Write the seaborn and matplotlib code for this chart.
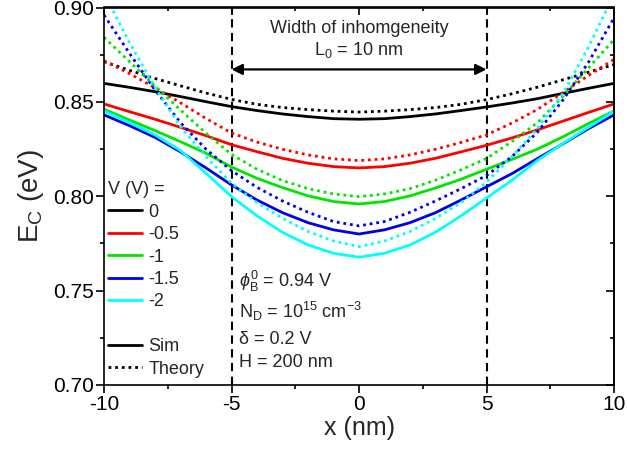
import matplotlib
matplotlib.use("Agg")
import matplotlib.pyplot as plt
from matplotlib.lines import Line2D
from matplotlib.ticker import MultipleLocator, FormatStrFormatter
import pandas as pd
import seaborn as sns

# position along the channel (nm)
x_nm = [-10, -9, -8, -7, -6, -5, -4, -3, -2, -1, 0,
        1, 2, 3, 4, 5, 6, 7, 8, 9, 10]

bias_labels = ["0", "-0.5", "-1", "-1.5", "-2"]
bias_colors = ["#000000", "#FF0000", "#00E600", "#0000E6", "#00FFFF"]

# conduction band edge from simulation (eV)
sim_0 = [0.8598, 0.8577, 0.8554, 0.8528, 0.8501, 0.8475, 0.8454, 0.8436, 0.8422, 0.8411, 0.8408,
         0.8411, 0.8422, 0.8436, 0.8454, 0.8473, 0.8494, 0.8517, 0.8545, 0.8572, 0.8598]
sim_05 = [0.8489, 0.8448, 0.8408, 0.8365, 0.8321, 0.8273, 0.8236, 0.8201, 0.8175, 0.8157, 0.8150,
          0.8157, 0.8175, 0.8201, 0.8235, 0.8270, 0.8309, 0.8352, 0.8398, 0.8444, 0.8489]
sim_1 = [0.8461, 0.8404, 0.8348, 0.8289, 0.8228, 0.8155, 0.8095, 0.8046, 0.8002, 0.7972, 0.7959,
         0.7972, 0.8002, 0.8044, 0.8090, 0.8143, 0.8195, 0.8250, 0.8315, 0.8385, 0.8452]
sim_15 = [0.8431, 0.8374, 0.8312, 0.8235, 0.8150, 0.8060, 0.7980, 0.7913, 0.7860, 0.7822, 0.7800,
          0.7822, 0.7860, 0.7913, 0.7980, 0.8050, 0.8120, 0.8200, 0.8278, 0.8358, 0.8431]
sim_2 = [0.8452, 0.8390, 0.8325, 0.8242, 0.8122, 0.7998, 0.7896, 0.7809, 0.7742, 0.7698, 0.7677,
         0.7698, 0.7742, 0.7809, 0.7896, 0.7990, 0.8085, 0.8190, 0.8280, 0.8365, 0.8450]

# conduction band edge from the analytical model (eV)
th_0 = [0.8713, 0.8667, 0.8624, 0.8585, 0.8547, 0.8513, 0.8487, 0.8470, 0.8459, 0.8451, 0.8446,
        0.8451, 0.8459, 0.8470, 0.8487, 0.8512, 0.8543, 0.8578, 0.8617, 0.8657, 0.8698]
th_05 = [0.8718, 0.8650, 0.8575, 0.8495, 0.8412, 0.8335, 0.8287, 0.8249, 0.8219, 0.8198, 0.8189,
         0.8198, 0.8219, 0.8249, 0.8285, 0.8325, 0.8388, 0.8460, 0.8550, 0.8640, 0.8725]
th_1 = [0.8842, 0.8713, 0.8584, 0.8457, 0.8334, 0.8222, 0.8143, 0.8083, 0.8040, 0.8012, 0.7998,
        0.8012, 0.8040, 0.8085, 0.8140, 0.8200, 0.8290, 0.8390, 0.8530, 0.8680, 0.8830]
th_15 = [0.8960, 0.8757, 0.8563, 0.8390, 0.8249, 0.8136, 0.8047, 0.7975, 0.7915, 0.7866, 0.7843,
         0.7866, 0.7915, 0.7975, 0.8040, 0.8110, 0.8210, 0.8340, 0.8510, 0.8710, 0.8945]
th_2 = [0.9075, 0.8814, 0.8577, 0.8369, 0.8210, 0.8069, 0.7966, 0.7883, 0.7813, 0.7763, 0.7733,
        0.7763, 0.7813, 0.7883, 0.7966, 0.8075, 0.8210, 0.8360, 0.8545, 0.8790, 0.9070]

sim_curves = [sim_0, sim_05, sim_1, sim_15, sim_2]
th_curves = [th_0, th_05, th_1, th_15, th_2]

frames = []
for lab, s, t in zip(bias_labels, sim_curves, th_curves):
    frames.append(pd.DataFrame({"x": x_nm, "E": s, "V": lab, "kind": "Sim"}))
    frames.append(pd.DataFrame({"x": x_nm, "E": t, "V": lab, "kind": "Theory"}))
df = pd.concat(frames, ignore_index=True)

sns.set_theme(style="ticks")
plt.rcParams.update({
    "font.family": ["Liberation Sans", "DejaVu Sans"],
    "mathtext.fontset": "custom",
    "mathtext.rm": "Liberation Sans",
    "mathtext.it": "Liberation Sans:italic",
    "mathtext.bf": "Liberation Sans:bold",
    "axes.unicode_minus": False,
    "axes.linewidth": 1.2,
    "axes.edgecolor": "black",
    "xtick.color": "black",
    "ytick.color": "black",
})

fig = plt.figure(figsize=(6.27, 4.55), dpi=100)
ax = fig.add_axes([104 / 627, 1 - 385 / 455, 510 / 627, 377.5 / 455])

dotted = (1, 1.4)
sns.lineplot(data=df, x="x", y="E", hue="V", style="kind",
             palette=dict(zip(bias_labels, bias_colors)),
             hue_order=bias_labels,
             dashes={"Sim": "", "Theory": dotted},
             linewidth=2.0, estimator=None, sort=False,
             legend=False, ax=ax)

ax.set_xlim(-10, 10)
ax.set_ylim(0.70, 0.90)
ax.xaxis.set_major_locator(MultipleLocator(5))
ax.xaxis.set_minor_locator(MultipleLocator(2.5))
ax.yaxis.set_major_locator(MultipleLocator(0.05))
ax.yaxis.set_minor_locator(MultipleLocator(0.025))
ax.yaxis.set_major_formatter(FormatStrFormatter("%.2f"))
ax.tick_params(which="major", direction="out", length=5.5, width=1.2,
               labelsize=15, pad=2)
ax.tick_params(which="minor", direction="out", length=3, width=1.2)

# inward ticks on the top and right frame
ax_top = ax.secondary_xaxis("top")
ax_right = ax.secondary_yaxis("right")
for sec in (ax_top, ax_right):
    sec.tick_params(which="major", direction="in", length=5.5, width=1.2)
    sec.tick_params(which="minor", direction="in", length=3, width=1.2)
ax_top.xaxis.set_major_locator(MultipleLocator(5))
ax_top.xaxis.set_minor_locator(MultipleLocator(2.5))
ax_top.set_xticklabels([])
ax_right.yaxis.set_major_locator(MultipleLocator(0.05))
ax_right.yaxis.set_minor_locator(MultipleLocator(0.025))
ax_right.set_yticklabels([])

ax.set_xlabel("x (nm)", fontsize=18, labelpad=1)
ax.set_ylabel("E$_\\mathregular{C}$ (eV)", fontsize=20, labelpad=5)

# boundaries of the inhomogeneity
for xb in (-5, 5):
    ax.axvline(xb, color="black", lw=1.5, ls=(0, (4, 2.6)), zorder=1)
ax.annotate("", xy=(5, 0.8672), xytext=(-5, 0.8672),
            arrowprops=dict(arrowstyle="<|-|>", color="black", lw=1.6,
                            mutation_scale=16, shrinkA=0, shrinkB=0))
ax.text(0, 0.8863, "Width of inhomgeneity", ha="center", va="baseline", fontsize=13)
ax.text(0, 0.8748, "L$_\\mathregular{0}$ = 10 nm", ha="center", va="baseline", fontsize=13)

# device parameters
params = [
    (0.7520, "$\\phi_\\mathregular{B}^\\mathregular{0}$ = 0.94 V"),
    (0.7355, "N$_\\mathregular{D}$ = 10$^\\mathregular{15}$ cm$^\\mathregular{-3}$"),
    (0.7218, "\u03b4 = 0.2 V"),
    (0.7096, "H = 200 nm"),
]
for yv, txt in params:
    ax.text(-4.72, yv, txt, ha="left", va="baseline", fontsize=13)

# legend: bias values, then line styles
handles = [Line2D([], [], color=c, lw=2.0) for c in bias_colors]
labels = list(bias_labels)
handles.append(Line2D([], [], color="none"))
labels.append(" ")
handles.append(Line2D([], [], color="black", lw=2.0))
labels.append("Sim")
handles.append(Line2D([], [], color="black", lw=2.0, dashes=dotted))
labels.append("Theory")
leg = ax.legend(handles, labels, title="V (V) =", loc="upper left",
                bbox_to_anchor=(0.0, 0.549), frameon=False, fontsize=13,
                title_fontsize=13, handlelength=1.9, handletextpad=0.35,
                labelspacing=0.3, borderpad=0, borderaxespad=0.2,
                alignment="left")

fig.savefig("out.png", dpi=100)
